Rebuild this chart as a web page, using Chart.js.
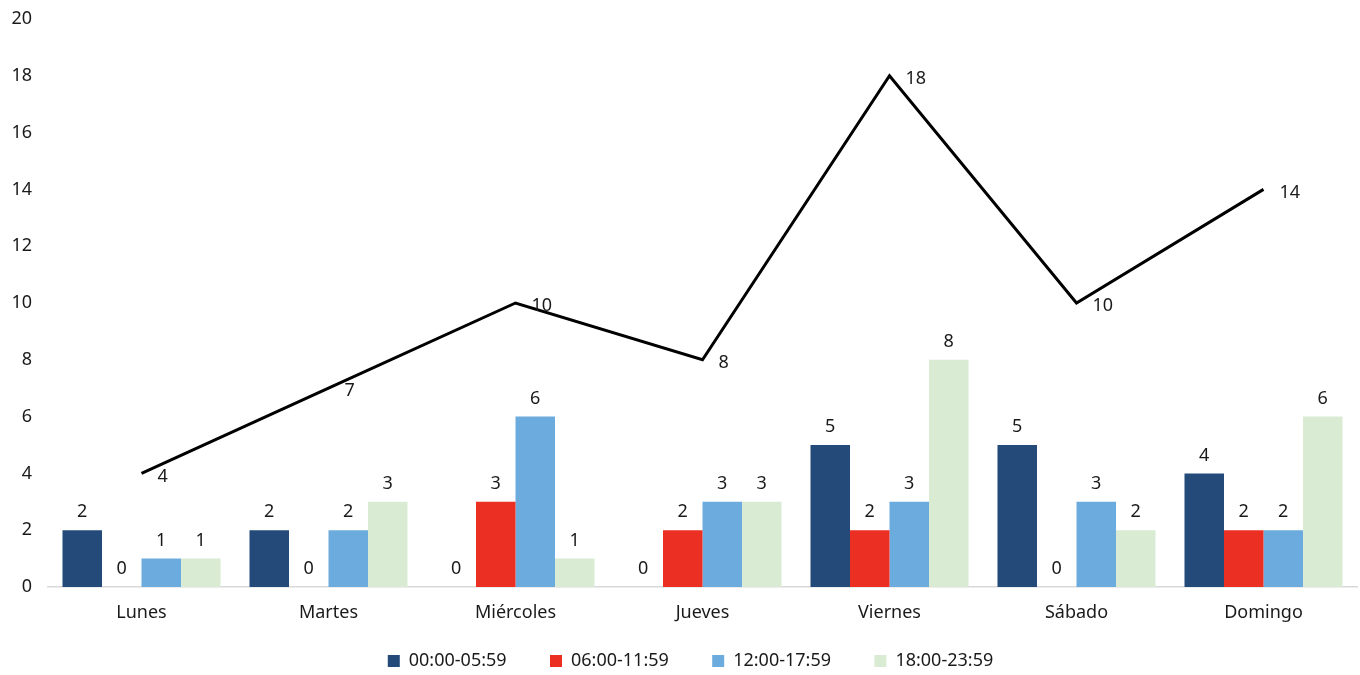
<!DOCTYPE html>
<html>
<head>
<meta charset="utf-8">
<script src="https://cdn.jsdelivr.net/npm/chart.js@4"></script>
<style>
  html, body { margin: 0; padding: 0; background: #fff; overflow: hidden; }
  #wrap { width: 1360px; height: 675px; position: relative; }
</style>
</head>
<body>
<div id="wrap"><canvas id="chartCanvas"></canvas></div>
<script>
const days = ['Lunes', 'Martes', 'Miércoles', 'Jueves', 'Viernes', 'Sábado', 'Domingo'];
const slot1 = [2, 2, 0, 0, 5, 5, 4];   // 00:00-05:59
const slot2 = [0, 0, 3, 2, 2, 0, 2];   // 06:00-11:59
const slot3 = [1, 2, 6, 3, 3, 3, 2];   // 12:00-17:59
const slot4 = [1, 3, 1, 3, 8, 2, 6];   // 18:00-23:59
const totals = [4, 7, 10, 8, 18, 10, 14];
const slotNames = ['00:00-05:59', '06:00-11:59', '12:00-17:59', '18:00-23:59'];

const FONT = '"Noto Sans", "Open Sans", sans-serif';
const TEXT = '#1a1a1a';

// value labels drawn next to bars and line points
const valueLabels = {
    id: 'valueLabels',
    afterDatasetsDraw(chart) {
        const ctx = chart.ctx;
        ctx.save();
        ctx.font = '18px ' + FONT;
        ctx.fillStyle = TEXT;
        chart.data.datasets.forEach((ds, i) => {
            const meta = chart.getDatasetMeta(i);
            meta.data.forEach((el, j) => {
                const v = ds.data[j];
                if (ds.type === 'line') {
                    ctx.textAlign = 'left';
                    ctx.textBaseline = 'middle';
                    ctx.fillText(v, el.x + 16, el.y + 3);
                } else {
                    ctx.textAlign = 'center';
                    ctx.textBaseline = 'bottom';
                    ctx.fillText(v, el.x, el.y - 9);
                }
            });
        });
        ctx.restore();
    }
};

// keep the legend band compact so it sits close to the bottom edge
const compactLegend = {
    id: 'compactLegend',
    beforeLayout(chart) {
        const lg = chart.legend;
        if (lg && !lg._compact) {
            const fit = lg.fit.bind(lg);
            lg.fit = function () {
                fit();
                this.height = 43;
                if (this.lineWidths && this.lineWidths.length) this.lineWidths[0] -= 24; // nudge row right
            };
            lg._compact = true;
        }
    }
};

const ctx = document.getElementById('chartCanvas');
window.myChart = new Chart(ctx, {
    type: 'bar',
    data: {
        labels: days,
        datasets: [
            { type: 'line', label: 'Total', data: totals, borderColor: '#000', borderWidth: 3,
              pointRadius: 0, fill: false, tension: 0, order: 0 },
            { label: slotNames[0], data: slot1, backgroundColor: '#234a78', order: 1 },
            { label: slotNames[1], data: slot2, backgroundColor: '#ec2f23', order: 1 },
            { label: slotNames[2], data: slot3, backgroundColor: '#6cabdd', order: 1 },
            { label: slotNames[3], data: slot4, backgroundColor: '#d9ebd3', order: 1 }
        ]
    },
    options: {
        responsive: true,
        maintainAspectRatio: false,
        animation: false,
        layout: { padding: { top: 0, right: 3, left: 0, bottom: 0 } },
        datasets: { bar: { barPercentage: 1.0, categoryPercentage: 0.845 } },
        plugins: {
            tooltip: { enabled: false },
            legend: {
                position: 'bottom',
                labels: {
                    filter: item => item.text.trim() !== 'Total',
                    // trailing spaces widen the gap between legend entries (not after the last one)
                    generateLabels: chart => {
                        const items = Chart.defaults.plugins.legend.labels.generateLabels(chart);
                        return items.map(item => ({
                            ...item,
                            text: item.text === 'Total' || item.text === slotNames[3] ? item.text : item.text + '     '
                        }));
                    },
                    boxWidth: 12,
                    boxHeight: 12,
                    padding: 20,
                    color: TEXT,
                    font: { family: FONT, size: 18 }
                }
            }
        },
        scales: {
            x: {
                grid: { display: false, drawTicks: false },
                border: { display: true, color: '#d9d9d9', width: 1.5 },
                ticks: { color: TEXT, font: { family: FONT, size: 18 }, padding: 15 },
                afterFit: axis => { axis.height = 45; }
            },
            y: {
                min: 0, max: 20,
                grid: { display: false, drawTicks: false },
                border: { display: false },
                ticks: { stepSize: 2, color: TEXT, font: { family: FONT, size: 18 }, padding: 16 },
                afterFit: axis => { axis.width = 48; axis.paddingTop = 19; axis.paddingBottom = 0; }
            }
        }
    },
    plugins: [valueLabels, compactLegend]
});
</script>
</body>
</html>
